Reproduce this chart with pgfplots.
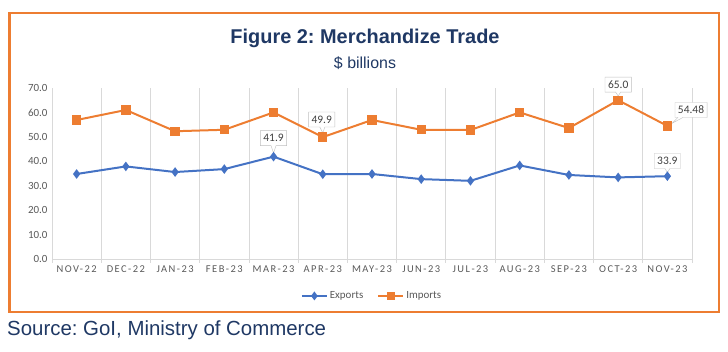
\documentclass[border=0pt]{standalone}
\usepackage{fontspec}
\setmainfont{Liberation Sans}
\newfontfamily\carlito{Carlito}
\newfontfamily\spaced[LetterSpace=14]{Carlito}
\usepackage{pgfplots}
\pgfplotsset{compat=1.18}
\usetikzlibrary{shapes.callouts}
\definecolor{expblue}{HTML}{4472C4}
\definecolor{imporange}{HTML}{ED7D31}
\definecolor{navy}{HTML}{1F3864}
\definecolor{tickgray}{HTML}{595959}
\definecolor{gridgray}{HTML}{D9D9D9}
\definecolor{boxgray}{HTML}{BFBFBF}
\definecolor{lblgray}{HTML}{404040}
\tikzset{lbl/.style={rectangle callout, draw=boxgray, fill=white, text=lblgray,
    font=\carlito\fontsize{11.5}{11.5}\selectfont, inner xsep=3bp, inner ysep=2bp, minimum height=15bp,
    callout pointer width=5bp}}
\frenchspacing
\begin{document}
\begin{tikzpicture}
\path[use as bounding box] (0bp,0bp) rectangle (728bp,352bp);
\draw[imporange, line width=2.5bp] (9.5bp,40bp) rectangle (719bp,339bp);
\node[font=\fontsize{20}{20}\selectfont\bfseries, text=navy] at (365bp,314bp) {Figure 2: Merchandize Trade};
\node[font=\fontsize{16}{16}\selectfont, text=navy] at (365bp,289bp) {\$ billions};
\node[font=\fontsize{20.5}{20.5}\selectfont, text=navy, anchor=west, inner sep=0pt] at (7bp,22bp) {Source: GoI, Ministry of Commerce};
\begin{axis}[
  at={(52bp,93bp)}, anchor=south west,
  scale only axis, width=640bp, height=171bp,
  xmin=-0.5, xmax=12.5, ymin=0, ymax=70,
  clip=false,
  xtick={0,...,12},
  xticklabels={NOV-22,DEC-22,JAN-23,FEB-23,MAR-23,APR-23,MAY-23,JUN-23,JUL-23,AUG-23,SEP-23,OCT-23,NOV-23},
  minor xtick={-0.5,0.5,...,12.5},
  xminorgrids=true,
  minor grid style={gridgray, line width=0.8bp},
  major tick length=0pt, minor tick length=4bp, tick align=outside,
  minor tick style={gridgray, line width=0.8bp},
  ytick={0,10,...,70},
  axis lines*=left,
  axis line style={gridgray, line width=0.8bp},
  /pgf/number format/assume math mode=true,
  yticklabel style={font=\carlito\fontsize{11}{11}\selectfont, text=tickgray, xshift=-1bp, /pgf/number format/.cd, fixed, fixed zerofill, precision=1},
  xticklabel style={font=\spaced\fontsize{10.5}{10.5}\selectfont, text=tickgray, yshift=-3bp},
  legend style={at={(0.5,-0.216)}, anchor=center, legend columns=2, draw=none, fill=none,
    font=\carlito\fontsize{11}{11}\selectfont, text=tickgray,
    /tikz/every even column/.append style={column sep=12bp}},
  legend image code/.code={\draw[mark repeat=2,mark phase=2,mark size=2.8bp] plot coordinates {(0bp,0bp) (12.5bp,0bp) (25bp,0bp)};},
]
\addplot[expblue, line width=2bp, mark=diamond*, mark size=3.2bp, mark options={solid}] coordinates {
(0,34.8) (1,37.9) (2,35.6) (3,36.8) (4,41.9) (5,34.7) (6,34.8) (7,32.7) (8,32.0) (9,38.3) (10,34.4) (11,33.4) (12,33.9)};
\addlegendentry{Exports}
\addplot[imporange, line width=2bp, mark=square*, mark size=3.7bp, mark options={solid}] coordinates {
(0,56.9) (1,61.0) (2,52.3) (3,52.9) (4,60.0) (5,49.9) (6,56.9) (7,52.9) (8,52.8) (9,60.0) (10,53.6) (11,65.0) (12,54.48)};
\addlegendentry{Imports}
\node[lbl, callout absolute pointer={(axis cs:4,43.4)}] at (axis cs:4,49.5) {41.9};
\node[lbl, callout absolute pointer={(axis cs:5,51.6)}] at (axis cs:4.98,57.1) {49.9};
\node[lbl, callout absolute pointer={(axis cs:11,66.7)}] at (axis cs:11,71.4) {65.0};
\node[lbl, callout absolute pointer={(axis cs:12.1,55.6)}] at (axis cs:12.48,61.0) {54.48};
\node[lbl, callout absolute pointer={(axis cs:12,35.4)}] at (axis cs:12,40.1) {33.9};
\end{axis}
\end{tikzpicture}
\end{document}
